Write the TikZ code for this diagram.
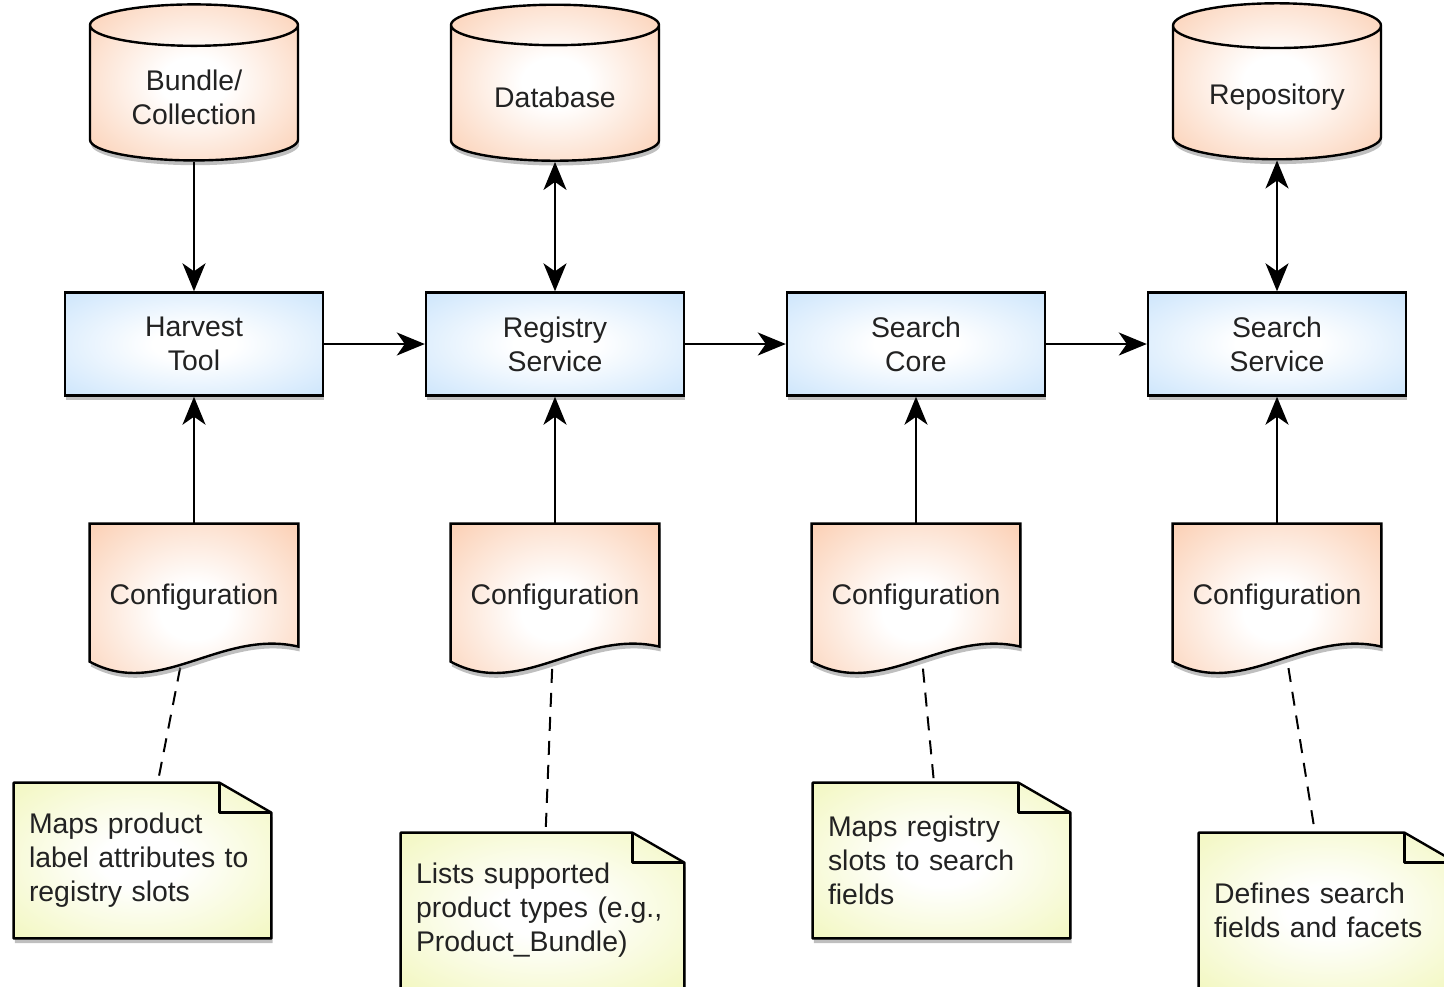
\documentclass[tikz,border=0pt]{standalone}
\usepackage{fontspec}
\setmainfont{Liberation Sans}
\usetikzlibrary{shapes.geometric,arrows.meta,shadows,backgrounds,calc}

\definecolor{storeorange}{HTML}{F9B68C}
\definecolor{procblue}{HTML}{B3D8FA}
\definecolor{noteyellow}{HTML}{ECF3A0}
\definecolor{inkgray}{HTML}{222222}

\pgfdeclareradialshading{orangeglow}{\pgfpoint{0bp}{0bp}}{color(0bp)=(white); color(8bp)=(white); color(50bp)=(storeorange); color(80bp)=(storeorange)}
\pgfdeclareradialshading{blueglow}{\pgfpoint{0bp}{0bp}}{color(0bp)=(white); color(8bp)=(white); color(50bp)=(procblue); color(80bp)=(procblue)}
\pgfdeclareradialshading{yellowglow}{\pgfpoint{0bp}{0bp}}{color(0bp)=(white); color(8bp)=(white); color(50bp)=(noteyellow); color(80bp)=(noteyellow)}

\tikzset{
	lbl/.style={font=\fontsize{14.2}{17}\selectfont, text=inkgray},
	shadowed/.style={drop shadow={opacity=0.5, shadow xshift=0.6pt, shadow yshift=-2.4pt}},
	store/.style={cylinder, shape border rotate=90, aspect=0.3, draw=black, line width=1.2pt,
		minimum width=104pt, minimum height=78pt, shading=orangeglow, shadowed, lbl, align=center},
	proc/.style={rectangle, draw=black, line width=1.2pt, minimum width=129pt, minimum height=51.5pt,
		shading=blueglow, shadowed, lbl, align=center},
	cfg/.style={rectangle, minimum width=104pt, minimum height=73pt, inner sep=0pt, lbl},
	note/.style={rectangle, minimum height=77.5pt, inner xsep=7.5pt, text width=#1, align=left, lbl},
	cfgfill/.style={draw=black, line width=1.2pt, shading=orangeglow, shadowed},
	notefill/.style={draw=black, line width=1.2pt, line join=round, shading=yellowglow, shadowed},
	arr/.style={-{Stealth[length=14pt,width=11.5pt,inset=4pt]}, line width=1pt},
	arrboth/.style={{Stealth[length=14pt,width=11.5pt,inset=4pt]}-{Stealth[length=14pt,width=11.5pt,inset=4pt]}, line width=1pt},
	link/.style={line width=1pt, dash pattern=on 7pt off 5pt}
}

\begin{document}
\begin{tikzpicture}[x=0.5pt,y=-0.5pt]
	\useasboundingbox (0,0) rectangle (1444,986);
	\clip (0,0) rectangle (1444,986);

	% data stores
	\node [store] (bundle) at (194,97) {Bundle/\\Collection};
	\node [store] (db) at (555,97) {Database};
	\node [store] (repo) at (1277,97) {Repository};

	% services
	\node [proc] (harvest) at (194,344) {Harvest\\Tool};
	\node [proc] (registry) at (555,344) {Registry\\Service};
	\node [proc] (core) at (916,344) {Search\\Core};
	\node [proc] (searchsvc) at (1277,344) {Search\\Service};

	% configuration documents
	\node [cfg] (cfgA) at (194,597) {Configuration};
	\node [cfg] (cfgB) at (555,597) {Configuration};
	\node [cfg] (cfgC) at (916,597) {Configuration};
	\node [cfg] (cfgD) at (1277,597) {Configuration};

	% notes
	\node [note=113.5pt] (noteA) at (142.5,860.5) {Maps product\\label attributes to\\registry slots};
	\node [note=126.5pt] (noteB) at (542.5,910.5) {Lists supported\\product types (e.g.,\\Product\_Bundle)};
	\node [note=113.5pt] (noteC) at (941.5,860.5) {Maps registry\\slots to search\\fields};
	\node [note=113.5pt] (noteD) at (1327.5,910.5) {Defines search\\fields and facets};

	\begin{scope}[on background layer]
		\foreach \c/\n in {cfgA/noteA, cfgB/noteB, cfgC/noteC, cfgD/noteD}
			\draw [link] (\c.center) -- (\n.center);
		\foreach \c in {cfgA, cfgB, cfgC, cfgD}
			\path [cfgfill] (\c.north west) -- (\c.north east) -- ($(\c.north east)+(0,123)$)
				.. controls +(-78,-18) and +(70,38) .. ($(\c.north west)+(0,138)$) -- cycle;
		\foreach \n in {noteA, noteB, noteC, noteD} {
			\path [notefill] (\n.north west) -- ($(\n.north east)+(-52,0)$) -- ($(\n.north east)+(0,30)$)
				-- (\n.south east) -- (\n.south west) -- cycle;
			\draw [line width=1.2pt, line join=round] ($(\n.north east)+(-52,0)$) -- ($(\n.north east)+(-52,30)$)
				-- ($(\n.north east)+(0,30)$);
		}
	\end{scope}

	\draw [arr] (bundle) -- (harvest);
	\draw [arrboth] (db) -- (registry);
	\draw [arrboth] (repo) -- (searchsvc);

	\draw [arr] (harvest) -- (registry);
	\draw [arr] (registry) -- (core);
	\draw [arr] (core) -- (searchsvc);

	\draw [arr] (cfgA) -- (harvest);
	\draw [arr] (cfgB) -- (registry);
	\draw [arr] (cfgC) -- (core);
	\draw [arr] (cfgD) -- (searchsvc);
\end{tikzpicture}
\end{document}
